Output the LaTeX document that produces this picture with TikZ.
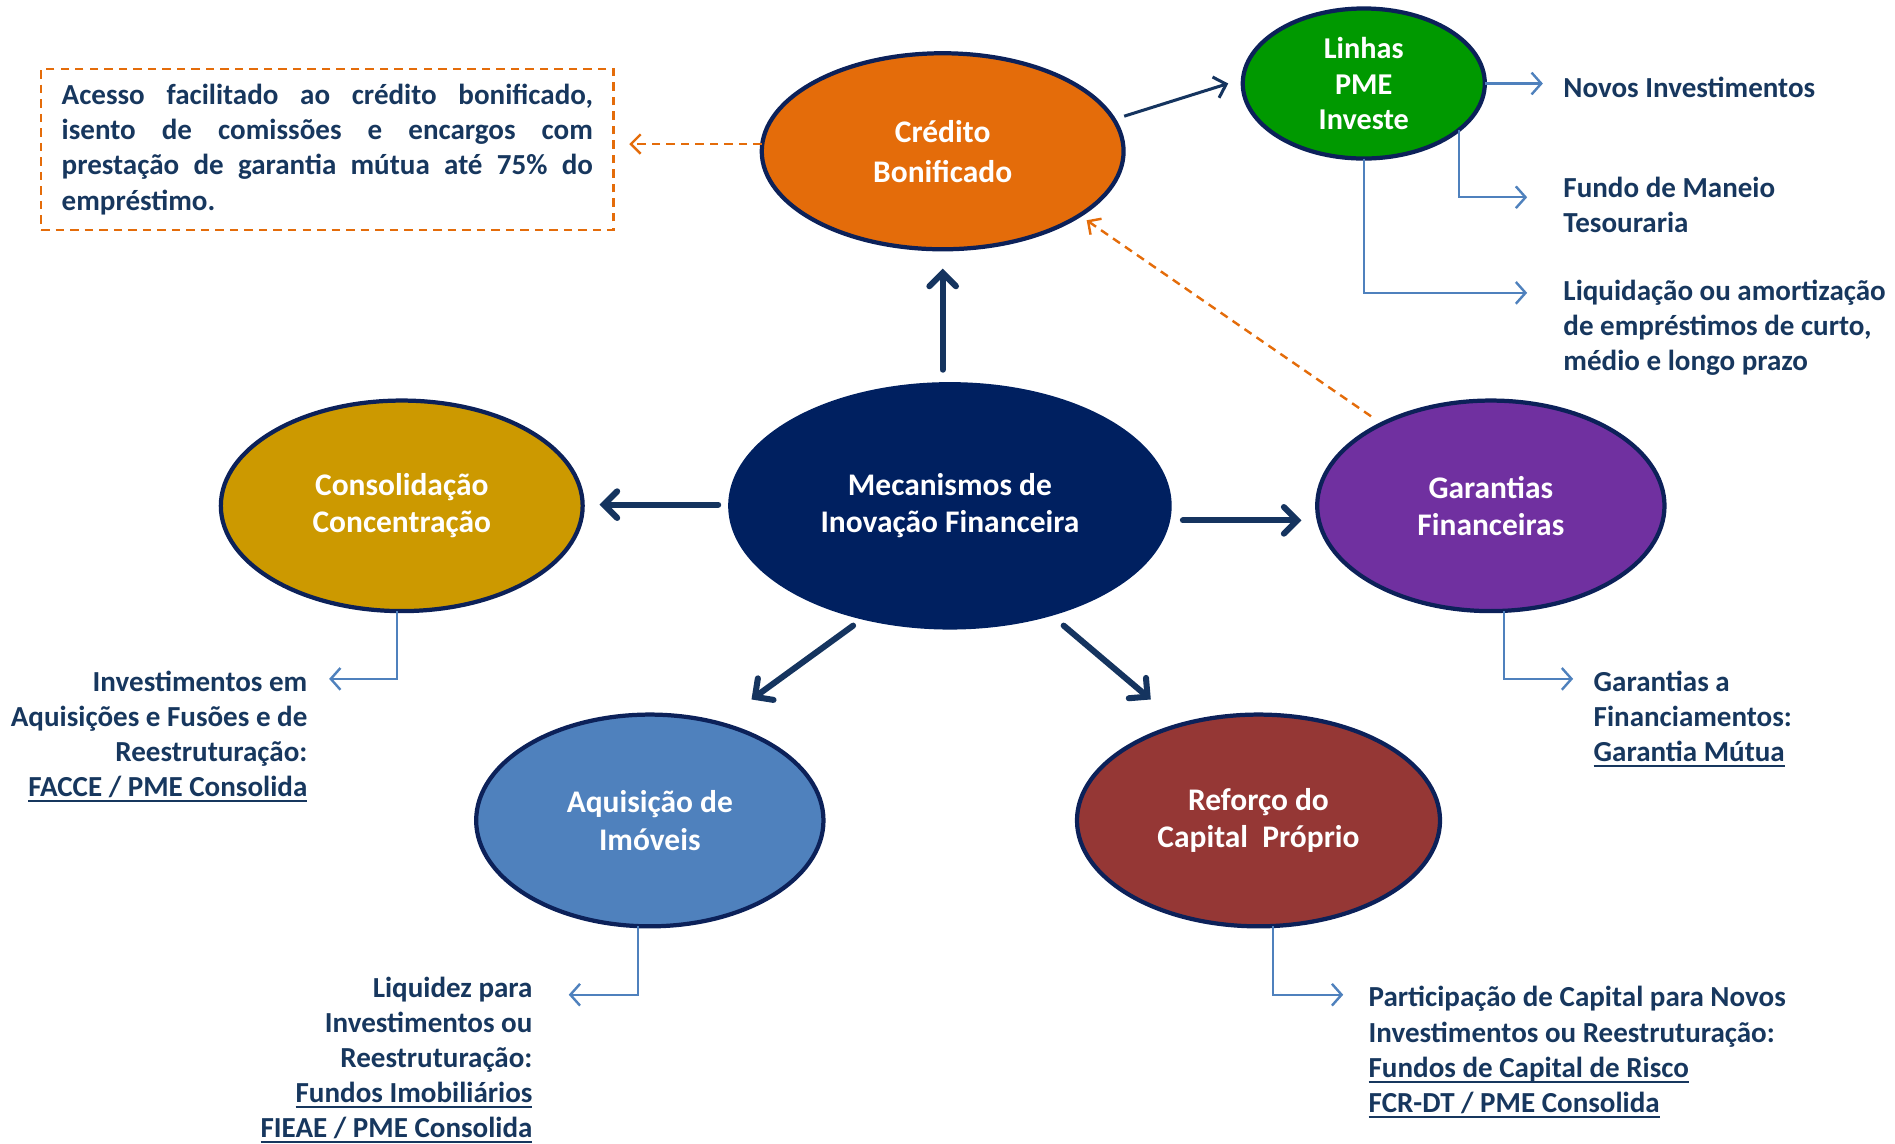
\documentclass[tikz,border=0pt]{standalone}
\usepackage{fontspec}
\setmainfont{Carlito}
\newcommand\myul[1]{\setbox0\hbox{#1}\rlap{\rule[-2.3pt]{\wd0}{0.9pt}}\box0}
\newcommand\jline[1]{\leavevmode\hbox to 219.5pt{#1}}
\usetikzlibrary{arrows.meta,shapes.geometric,calc}
\definecolor{txtblue}{HTML}{17375E}
\definecolor{arrnavy}{HTML}{15345F}
\definecolor{bordc}{HTML}{0C2159}
\definecolor{cnavy}{HTML}{002060}
\definecolor{corange}{HTML}{E46C0A}
\definecolor{cgreen}{HTML}{009900}
\definecolor{cgold}{HTML}{CC9900}
\definecolor{cpurple}{HTML}{7030A0}
\definecolor{cblue}{HTML}{4F81BD}
\definecolor{cred}{HTML}{953735}
\tikzset{
  bub/.style={ellipse, draw=bordc, line width=1.75pt, text=white, align=center, inner sep=0pt, outer sep=0pt,
    font=\fontsize{13}{15.5}\selectfont\bfseries},
  lbl/.style={text=txtblue, inner sep=0pt, outer sep=0pt, font=\fontsize{12}{14.5}\selectfont\bfseries},
  bigarr/.style={draw=arrnavy, line width=2.5pt, line cap=round, -{Straight Barb[length=5.5pt,width=11pt,line cap=round]}},
  thinnavy/.style={draw=arrnavy, line width=1.25pt, -{Straight Barb[length=4.5pt,width=9pt]}},
  dashor/.style={draw=corange, line width=1pt, dash pattern=on 3.5pt off 2.5pt, -{Straight Barb[length=4pt,width=8pt]}},
  elbow/.style={draw=cblue, line width=1pt, -{Straight Barb[length=4pt,width=9pt]}},
}
\begin{document}
\begin{tikzpicture}[x=0.5pt,y=-0.5pt]
\useasboundingbox (0,0) rectangle (1566,944.6);

% ellipses
\node[bub, fill=cnavy, draw=cnavy, minimum width=181.5pt, minimum height=100.5pt] (mec) at (785,418) {Mecanismos de\\Inovação Financeira};
\node[bub, fill=corange, minimum width=149.5pt, minimum height=81pt] (cred) at (779,125) {Crédito\\[1pt]Bonificado};
\node[bub, fill=cgreen, minimum width=100pt, minimum height=62pt, font=\fontsize{12.5}{14.5}\selectfont\bfseries] (lin) at (1127,69) {Linhas\\PME\\Investe};
\node[bub, fill=cgold, minimum width=149.5pt, minimum height=87pt] (cons) at (332,418) {Consolidação\\Concentração};
\node[bub, fill=cpurple, minimum width=143.5pt, minimum height=87pt] (gar) at (1232,418) {Garantias\\Financeiras};
\node[bub, fill=cblue, minimum width=143.5pt, minimum height=87.5pt] (aq) at (537,678) {Aquisição de\\Imóveis};
\node[bub, fill=cred, minimum width=150pt, minimum height=87.5pt] (ref) at (1040,678) {Reforço do\\Capital\ \ Próprio};

% dashed box
\node[lbl, draw=corange, line width=1pt, dash pattern=on 3.5pt off 2.5pt, minimum width=236.5pt, minimum height=66.5pt, text width=219.5pt, align=left] (box) at (270.5,123.5)
 {\jline{Acesso\hfill facilitado\hfill ao\hfill crédito\hfill bonificado,}\\
  \jline{isento\hfill de\hfill comissões\hfill e\hfill encargos\hfill com}\\
  \jline{prestação\hfill de\hfill garantia\hfill mútua\hfill até\hfill 75\%\hfill do}\\
  empréstimo.};

% labels
\node[lbl, anchor=west] (novos) at (1292,72) {Novos Investimentos};
\node[lbl, anchor=west, align=left] (fundo) at (1292,169.5) {Fundo de Maneio\\Tesouraria};
\node[lbl, anchor=west, align=left] (liq) at (1292,271) {Liquidação ou amortização\\de empréstimos de curto,\\médio e longo prazo};
\node[lbl, anchor=east, align=right] (inv) at (254,608.5) {Investimentos em\\Aquisições e Fusões e de\\Reestruturação:\\\myul{FACCE / PME Consolida}};
\node[lbl, anchor=west, align=left] (gfin) at (1317,594) {Garantias a\\Financiamentos:\\\myul{Garantia Mútua}};
\node[lbl, anchor=east, align=right] (liqz) at (440,876) {Liquidez para\\Investimentos ou\\Reestruturação:\\\myul{Fundos Imobiliários}\\\myul{FIEAE / PME Consolida}};
\node[lbl, anchor=west, align=left] (part) at (1131,869.5) {Participação de Capital para Novos\\Investimentos ou Reestruturação:\\\myul{Fundos de Capital de Risco}\\\myul{FCR-DT / PME Consolida}};

% thick arrows from the centre
\draw[bigarr, shorten <=6pt, shorten >=8pt] (mec.north -| cred) -- (cred.south);
\draw[bigarr, shorten <=5pt, shorten >=7pt] ([yshift=0.5pt]mec.west) -- ([yshift=0.5pt]cons.east);
\draw[bigarr, shorten <=5.5pt, shorten >=6.5pt] ([yshift=-6pt]mec.east) -- ([yshift=-6pt]gar.west);
\draw[bigarr] ($(mec)+(-80,99)$) -- ($(aq)+(84,-100)$);
\draw[bigarr] ($(mec)+(94,99)$) -- ($(ref)+(-89,-100)$);

% credito -> linhas
\draw[thinnavy] ($(cred)+(150,-29)$) -- ($(lin)+(-112,0)$);

% dashed orange
\draw[dashor, shorten >=6.5pt] ([yshift=3pt]cred.west) -- ([yshift=3pt]cred.west -| box.east);
\draw[dashor] ($(gar)+(-99,-74)$) -- ($(cred)+(119,57)$);

% elbow connectors
\draw[elbow, shorten >=8.5pt] (lin.east) -- (lin.east -| novos.west);
\draw[elbow, shorten >=15pt] (lin.-26) |- ([yshift=3.25pt]fundo.west);
\draw[elbow, shorten >=15pt] (lin.south) |- ([yshift=14.5pt]liq.west);
\draw[elbow, shorten >=9pt] ([xshift=-2pt]cons.south) |- ([yshift=23.75pt]inv.east);
\draw[elbow, shorten >=8.5pt] ([xshift=5.5pt]gar.south) |- ([yshift=16.5pt]gfin.west);
\draw[elbow, shorten >=15pt] ([xshift=-5pt]aq.south) |- ([yshift=27pt]liqz.east);
\draw[elbow, shorten >=10.5pt] ([xshift=6pt]ref.south) |- ([yshift=23.75pt]part.west);
\end{tikzpicture}
\end{document}
